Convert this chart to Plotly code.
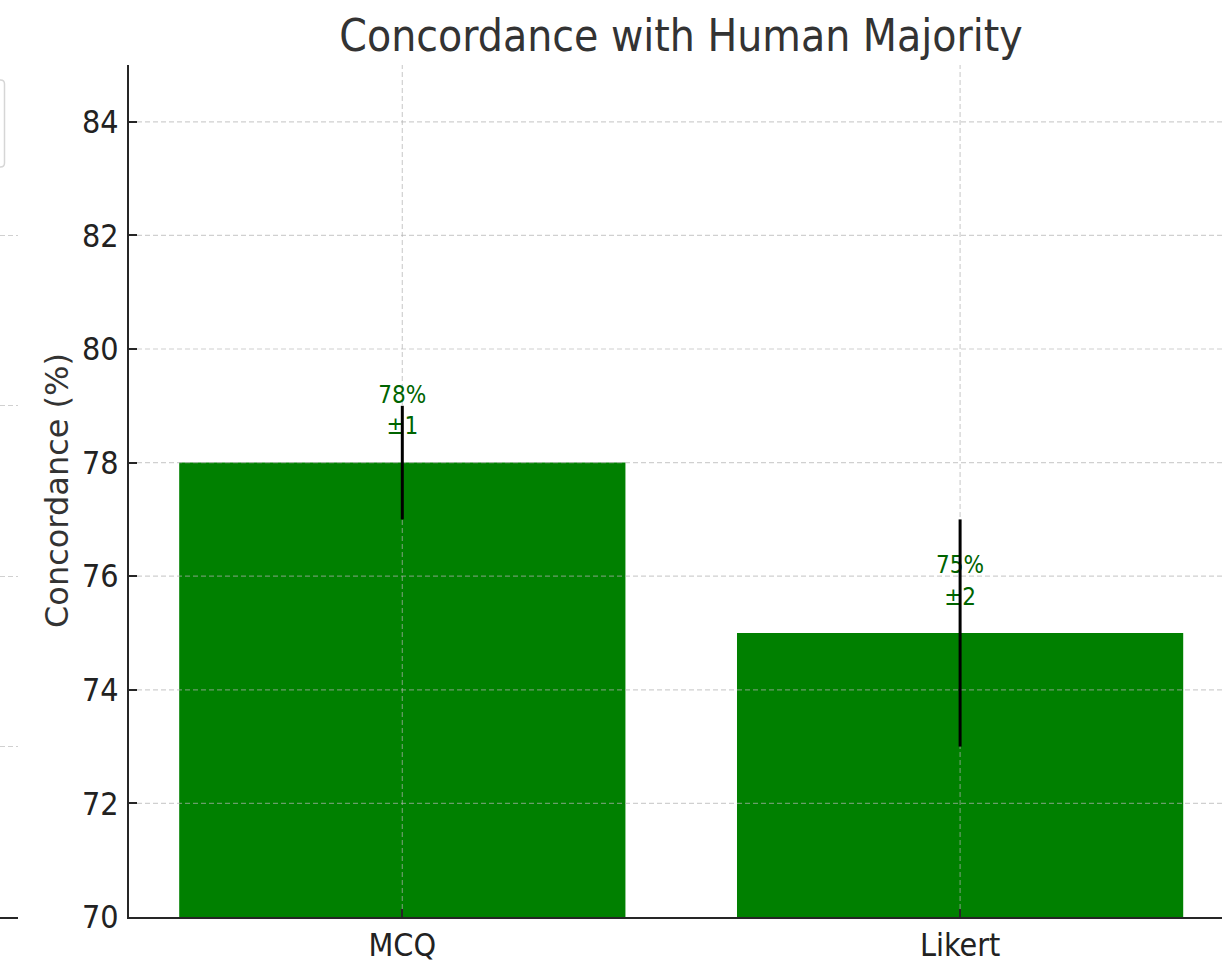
import plotly.graph_objects as go

# Data
categories = ["MCQ", "Likert"]
concordance = [78, 75]
errors = [1, 2]
y_ticks = [70, 72, 74, 76, 78, 80, 82, 84]

W, H = 1222, 967
L_PX, T_PX, B_PX = 129, 65, 917
COND = "DejaVu Sans Condensed, DejaVu Sans, sans-serif"
REG = "DejaVu Sans, sans-serif"
GRID = "rgba(176,176,176,0.6)"
AX = "#262626"

x_idx = list(range(len(categories)))
x_lo = -0.49
x_hi = (W - 402) / 558.0  # visible right end in data units
y_lo, y_hi = 70, 85
label_offset = 0.88  # labels sit just above each bar's value

fig = go.Figure()

# Bars
fig.add_trace(go.Bar(
    x=x_idx, y=[v - y_lo for v in concordance], base=y_lo, width=0.8,
    marker=dict(color="#008000", line=dict(width=0)),
    showlegend=False, hoverinfo="skip",
))

# Dashed grid drawn over the bars
gx, gy = [], []
for t in y_ticks[1:]:
    gx += [x_lo, x_hi, None]
    gy += [t, t, None]
for i in x_idx:
    gx += [i, i, None]
    gy += [y_lo, y_hi, None]
fig.add_trace(go.Scatter(
    x=gx, y=gy, mode="lines",
    line=dict(color=GRID, width=1.2, dash="5px,3px"),
    showlegend=False, hoverinfo="skip",
))

# Value labels
fig.add_trace(go.Scatter(
    x=x_idx, y=[v + label_offset for v in concordance], mode="text",
    text=[f"{v}%<br>±{e}" for v, e in zip(concordance, errors)],
    textposition="middle center",
    textfont=dict(family=COND, size=24, color="#006400"),
    showlegend=False, hoverinfo="skip",
))

# Error bars
fig.add_trace(go.Scatter(
    x=x_idx, y=concordance, mode="markers",
    marker=dict(size=0.1, color="rgba(0,0,0,0)"),
    error_y=dict(type="data", array=errors, visible=True,
                 color="black", thickness=3, width=0),
    showlegend=False, hoverinfo="skip",
))

# Neighbouring panel edge on the left
fig.add_trace(go.Scatter(x=[0], y=[0], mode="markers",
                         marker=dict(opacity=0), xaxis="x2", yaxis="y2",
                         showlegend=False, hoverinfo="skip"))

fig.update_layout(
    width=W, height=H,
    margin=dict(l=0, r=0, t=T_PX, b=H - B_PX, pad=0),
    plot_bgcolor="white", paper_bgcolor="white",
    title=dict(text="Concordance with Human Majority",
               x=681 / W, xanchor="center", xref="paper",
               y=1 - 36 / H, yanchor="middle", yref="container",
               font=dict(family=COND, size=44, color="#333333")),
    xaxis=dict(domain=[L_PX / W, 1], range=[x_lo, x_hi],
               tickmode="array", tickvals=x_idx, ticktext=categories,
               showgrid=False, zeroline=False,
               showline=True, linecolor=AX, linewidth=2.2,
               ticks="inside", ticklen=8, tickwidth=1.5, tickcolor=AX,
               ticklabelstandoff=-2,
               tickfont=dict(family=COND, size=32, color="#222222")),
    yaxis=dict(range=[y_lo, y_hi], tickmode="array", tickvals=y_ticks,
               showgrid=False, zeroline=False,
               showline=True, linecolor=AX, linewidth=2.2,
               ticks="inside", ticklen=8, tickwidth=1.5, tickcolor=AX,
               ticklabelstandoff=2,
               tickfont=dict(family=COND, size=32, color="#222222")),
    xaxis2=dict(domain=[0, 18 / W], range=[0, 1], showgrid=False,
                zeroline=False, showticklabels=False, ticks="",
                showline=True, linecolor=AX, linewidth=2.2, anchor="y2"),
    yaxis2=dict(domain=[0, 1], range=[0, 5], dtick=1, anchor="x2",
                showgrid=True, gridcolor="#d0d0d0", griddash="5px,3px",
                gridwidth=1.2, zeroline=False, showticklabels=False,
                ticks="", showline=False),
    annotations=[dict(text="Concordance (%)", x=57 / W, y=0.5,
                      xref="paper", yref="paper", showarrow=False,
                      textangle=-90, xanchor="center", yanchor="middle",
                      font=dict(family=REG, size=32, color="#333333"))],
)

# Edge of the neighbouring legend frame
xr = 4.5 / W
rx, ry = 4 / W, 4 / (B_PX - T_PX)
yt = (B_PX - 80) / (B_PX - T_PX)
yb = (B_PX - 167) / (B_PX - T_PX)
fig.add_shape(
    type="path", xref="paper", yref="paper",
    path=(f"M -0.01,{yt} L {xr - rx},{yt} Q {xr},{yt} {xr},{yt - ry} "
          f"L {xr},{yb + ry} Q {xr},{yb} {xr - rx},{yb} L -0.01,{yb}"),
    line=dict(color="#d6d6d6", width=1.5),
)

fig.write_html("out.html")
